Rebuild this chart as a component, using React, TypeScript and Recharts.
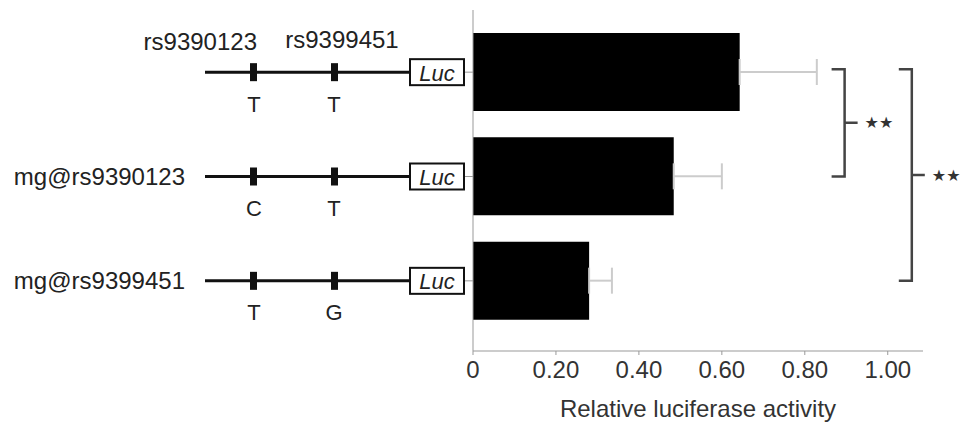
import React from 'react';
import {
  BarChart,
  Bar,
  XAxis,
  YAxis,
  ErrorBar,
  ReferenceLine,
  Label,
} from 'recharts';

const FONT = '"Liberation Sans", Arial, Helvetica, sans-serif';

// reporter constructs; the wild-type row carries no name on the figure
const constructs = ['wt', 'mg@rs9390123', 'mg@rs9399451'];
const rowLabels = ['', 'mg@rs9390123', 'mg@rs9399451'];
const snpNames = ['rs9390123', 'rs9399451'];
const rs9390123Alleles = ['T', 'C', 'T'];
const rs9399451Alleles = ['T', 'T', 'G'];
const activity = [0.643, 0.484, 0.28];
const activitySd = [0.186, 0.116, 0.055];
const xTicks = [0, 0.2, 0.4, 0.6, 0.8, 1.0];

// significance brackets between rows, x position in data units
const brackets = [
  { from: 'wt', to: 'mg@rs9390123', x: 0.896, label: '★★' },
  { from: 'wt', to: 'mg@rs9399451', x: 1.058, label: '★★' },
];

const data = constructs.map((name, i) => ({
  name,
  activity: activity[i],
  sd: [0, activitySd[i]],
}));

function ConstructTick(props: any) {
  const { x, y, payload } = props;
  const i = payload?.index ?? props.index ?? 0;
  const ax = x;
  return (
    <g fontFamily={FONT} fill="#222">
      {rowLabels[i] && (
        <text x={ax - 280} y={y} textAnchor="end" dominantBaseline="central" fontSize={24}>
          {rowLabels[i]}
        </text>
      )}
      {i === 0 && (
        <>
          <text x={ax - 208} y={y - 31} textAnchor="end" dominantBaseline="central" fontSize={24}>
            {snpNames[0]}
          </text>
          <text x={ax - 123} y={y - 33} textAnchor="middle" dominantBaseline="central" fontSize={24}>
            {snpNames[1]}
          </text>
        </>
      )}
      <line x1={ax - 260} x2={ax - 55} y1={y} y2={y} stroke="#111" strokeWidth={3} />
      <rect x={ax - 215} y={y - 9} width={7} height={18} fill="#111" />
      <rect x={ax - 134} y={y - 9} width={7} height={18} fill="#111" />
      <text x={ax - 211} y={y + 32} textAnchor="middle" dominantBaseline="central" fontSize={22}>
        {rs9390123Alleles[i]}
      </text>
      <text x={ax - 131} y={y + 32} textAnchor="middle" dominantBaseline="central" fontSize={22}>
        {rs9399451Alleles[i]}
      </text>
      <rect x={ax - 55} y={y - 13} width={54} height={26} fill="#fff" stroke="#111" strokeWidth={2} />
      <text x={ax - 28} y={y + 1} textAnchor="middle" dominantBaseline="central" fontSize={22} fontStyle="italic">
        Luc
      </text>
    </g>
  );
}

// draws a "]" bracket along the reference segment, with a mid tick and stars
function Bracket(props: any) {
  const { x1, y1, y2, label } = props;
  const top = Math.min(y1, y2) - 3;
  const bottom = Math.max(y1, y2);
  const mid = (top + bottom) / 2;
  return (
    <g>
      <path
        d={`M${x1 - 13},${top} H${x1} V${bottom} H${x1 - 13} M${x1},${mid} H${x1 + 13}`}
        fill="none"
        stroke="#444"
        strokeWidth={2.5}
      />
      <text
        x={x1 + 20}
        y={mid}
        dominantBaseline="central"
        fontFamily='"DejaVu Sans", sans-serif'
        fontSize={16}
        fill="#333"
      >
        {label}
      </text>
    </g>
  );
}

export default function App() {
  return (
    <div style={{ position: 'absolute', left: 0, top: 0, background: '#fff' }}>
      <BarChart
        width={969}
        height={435}
        data={data}
        layout="vertical"
        margin={{ top: 10, right: 46, left: 0, bottom: 0 }}
      >
        <XAxis
          type="number"
          domain={[0, 1.085]}
          ticks={xTicks}
          allowDataOverflow
          tickFormatter={(v: number) => (v === 0 ? '0' : v.toFixed(2))}
          tick={{ fontSize: 24, fill: '#333', fontFamily: FONT }}
          tickSize={4}
          tickMargin={6}
          stroke="#999"
          height={84}
        >
          <Label
            value="Relative luciferase activity"
            position="insideBottom"
            offset={18}
            style={{ fontSize: 24, fill: '#333', fontFamily: FONT }}
          />
        </XAxis>
        <YAxis
          type="category"
          dataKey="name"
          width={473}
          tickSize={8}
          tickMargin={0}
          tick={<ConstructTick />}
          stroke="#999"
          padding={{ top: 10, bottom: 18 }}
          interval={0}
        />
        <Bar dataKey="activity" fill="#000" barSize={78} isAnimationActive={false}>
          <ErrorBar
            dataKey="sd"
            direction="x"
            width={13}
            stroke="#cccccc"
            strokeWidth={2}
            isAnimationActive={false}
          />
        </Bar>
        {brackets.map((b, k) => (
          <ReferenceLine
            key={k}
            ifOverflow="visible"
            segment={[{ x: b.x, y: b.from }, { x: b.x, y: b.to }]}
            shape={(p: any) => <Bracket {...p} label={b.label} />}
          />
        ))}
      </BarChart>
    </div>
  );
}
